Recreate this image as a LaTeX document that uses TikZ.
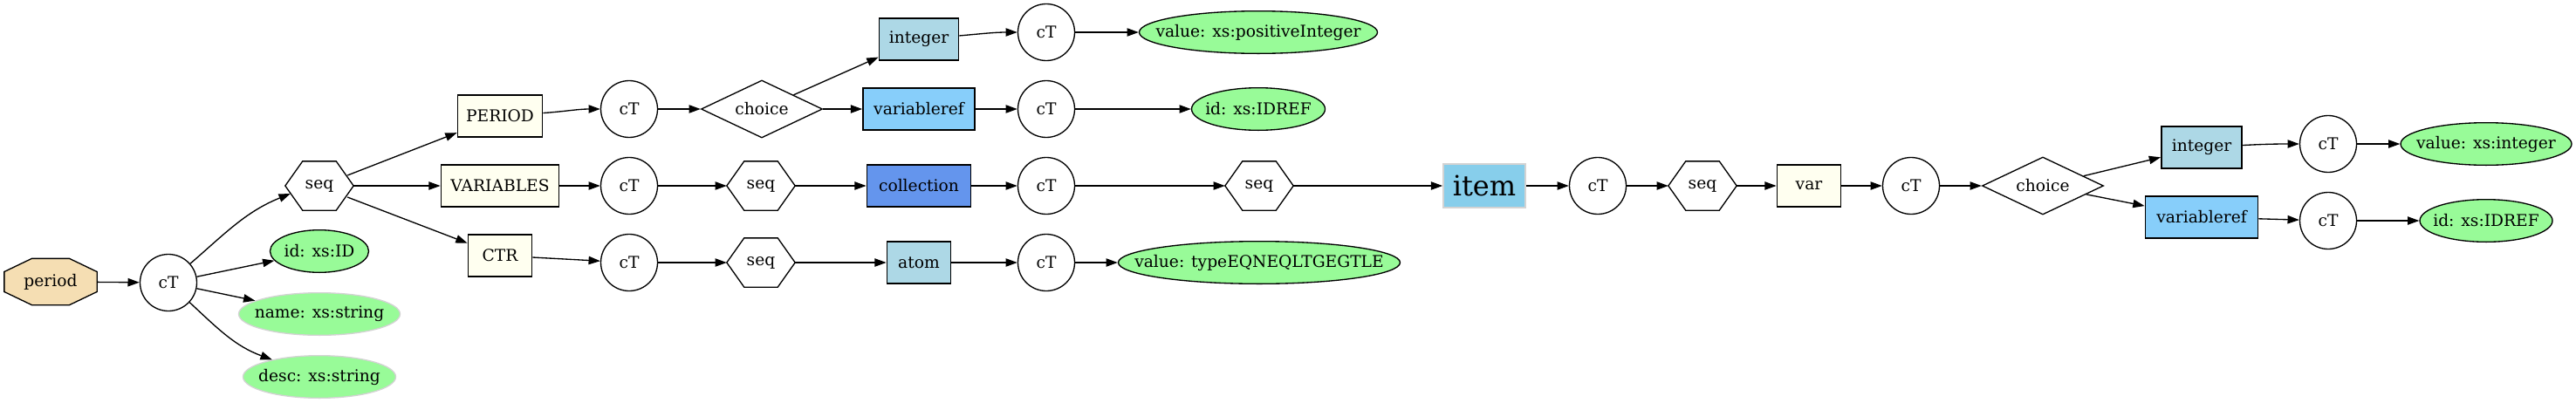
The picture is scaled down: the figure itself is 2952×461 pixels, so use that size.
\documentclass[tikz,border=0pt]{standalone}
\usepackage{fontspec}
\setmainfont{DejaVu Serif}
\usetikzlibrary{shapes.geometric,arrows.meta,backgrounds}
\definecolor{wheatc}{HTML}{F5DEB3}
\definecolor{palegreenc}{HTML}{98FB98}
\definecolor{ivoryc}{HTML}{FFFFF0}
\definecolor{lightbluec}{HTML}{ADD8E6}
\definecolor{lightskybluec}{HTML}{87CEFA}
\definecolor{cornflowerc}{HTML}{6495ED}
\definecolor{skybluec}{HTML}{87CEEB}
\definecolor{lgrayc}{HTML}{D3D3D3}
\newcommand\zwbox[1]{\makebox[0pt]{#1}}
\begin{document}
\begin{tikzpicture}[x=0.75pt,y=-0.75pt,
  base/.style={font=\fontsize{14}{16}\selectfont, inner sep=0pt, line width=1pt},
  ctnode/.style={base, circle, draw, fill=white, minimum size=48.75pt},
  boxnode/.style={base, rectangle, draw, line width=1.3pt, minimum height=36pt, inner xsep=2pt},
  hexnode/.style={base, rectangle, minimum width=57.75pt, minimum height=41.25pt},
  choicenode/.style={base, diamond, draw, aspect=2.1, minimum width=104.25pt, minimum height=49.5pt},
  attr/.style={base, ellipse, draw, fill=palegreenc, minimum height=36.5pt},
  attrl/.style={attr, draw=lgrayc},
  edge/.style={line width=1pt, -{Triangle[length=10pt,width=7pt]}},
  shapeline/.style={line width=1pt}
]
\useasboundingbox (0,0) rectangle (2952,461);

% left part
\node[base, rectangle, minimum width=78.75pt, minimum height=39pt] (period) at (58,323) {period};
\node[ctnode] (cT0) at (193,324) {cT};
\node[hexnode] (seq0) at (366,213) {seq};
\node[attr, minimum width=84.75pt] (id) at (366,288) {\zwbox{id: xs:ID}};
\node[attrl, minimum width=138.75pt] (name) at (366,360) {\zwbox{name: xs:string}};
\node[attrl, minimum width=131.25pt] (desc) at (366,432) {\zwbox{desc: xs:string}};

\node[boxnode, fill=ivoryc, minimum width=72.75pt] (PERIOD) at (573,133) {PERIOD};
\node[boxnode, fill=ivoryc, minimum width=101.25pt] (VARIABLES) at (573,213) {VARIABLES};
\node[boxnode, fill=ivoryc, minimum width=54.75pt] (CTR) at (573,293) {CTR};

\node[ctnode] (cT1) at (721,125) {cT};
\node[ctnode] (cT2) at (721,213) {cT};
\node[ctnode] (cT3) at (721,301) {cT};

\node[choicenode] (choice1) at (873,125) {choice};
\node[hexnode] (seq2) at (872,213) {seq};
\node[hexnode] (seq3) at (872,301) {seq};

\node[boxnode, fill=lightbluec, minimum width=68.25pt] (integer1) at (1053,45) {integer};
\node[boxnode, fill=lightskybluec, minimum width=96pt] (varref1) at (1053,125) {variableref};
\node[boxnode, fill=cornflowerc, minimum width=89.25pt] (collection) at (1053,213) {collection};
\node[boxnode, fill=lightbluec, minimum width=54.75pt] (atom) at (1053,301) {atom};

\node[ctnode] (cT4) at (1199,37) {cT};
\node[ctnode] (cT5) at (1199,125) {cT};
\node[ctnode] (cT6) at (1199,213) {cT};
\node[ctnode] (cT7) at (1199,301) {cT};

\node[attr, minimum width=204.75pt] (posint) at (1442,37) {\zwbox{value: xs:positiveInteger}};
\node[attr, minimum width=114.75pt] (idref1) at (1442,125) {\zwbox{id: xs:IDREF}};
\node[hexnode] (seq4) at (1443,213) {seq};
\node[attr, minimum width=242.25pt] (typeeq) at (1443,301) {\zwbox{value: typeEQNEQLTGEGTLE}};

% right part
\node[boxnode, draw=lgrayc, fill=skybluec, minimum width=70.5pt, minimum height=37.5pt, font=\fontsize{24}{28}\selectfont] (item) at (1701,213) {item};
\node[ctnode] (cT8) at (1831,213) {cT};
\node[hexnode] (seq5) at (1951,213) {seq};
\node[boxnode, fill=ivoryc, minimum width=54.75pt] (var) at (2073,213) {var};
\node[ctnode] (cT9) at (2190,213) {cT};
\node[choicenode] (choice2) at (2341,213) {choice};
\node[boxnode, fill=lightbluec, minimum width=69pt] (integer2) at (2523,169) {integer};
\node[boxnode, fill=lightskybluec, minimum width=96.75pt] (varref2) at (2523,249) {variableref};
\node[ctnode] (cT10) at (2668,165) {cT};
\node[ctnode] (cT11) at (2668,253) {cT};
\node[attr, minimum width=147pt] (xsint) at (2849,165) {\zwbox{value: xs:integer}};
\node[attr, minimum width=114pt] (idref2) at (2849,253) {\zwbox{id: xs:IDREF}};

\begin{pgfonlayer}{background}
  \draw[shapeline, fill=wheatc] ([yshift=8.6pt]period.west) -- ([xshift=-16.1pt]period.north) -- ([xshift=16.1pt]period.north) -- ([yshift=8.6pt]period.east) -- ([yshift=-8.6pt]period.east) -- ([xshift=16.1pt]period.south) -- ([xshift=-16.1pt]period.south) -- ([yshift=-8.6pt]period.west) -- cycle;
  \foreach \n in {seq0,seq2,seq3,seq4,seq5}{
    \draw[shapeline, fill=white] (\n.west) -- ([xshift=-14.44pt]\n.north) -- ([xshift=14.44pt]\n.north) -- (\n.east) -- ([xshift=14.44pt]\n.south) -- ([xshift=-14.44pt]\n.south) -- cycle;
  }
\end{pgfonlayer}

% edges
\draw[edge] (period) -- (cT0);
\draw[edge] (cT0) to[out=41,in=202] ([xshift=4.5pt,yshift=-6.75pt]seq0.west);
\draw[edge] (cT0) -- (id);
\draw[edge] (cT0) -- (name);
\draw[edge] (cT0) to[out=-43,in=160] (desc);
\draw[edge] ([xshift=-5.25pt,yshift=9pt]seq0.east) -- (PERIOD);
\draw[edge] (seq0) -- (VARIABLES);
\draw[edge] ([xshift=-5.25pt,yshift=-9.75pt]seq0.east) -- (CTR);
\draw[edge] (PERIOD) to[out=4,in=180] (cT1);
\draw[edge] (VARIABLES) -- (cT2);
\draw[edge] (CTR) -- (cT3);
\draw[edge] (cT1) -- (choice1);
\draw[edge] (cT2) -- (seq2);
\draw[edge] (cT3) -- (seq3);
\draw[edge] (choice1) -- (integer1);
\draw[edge] (choice1) -- (varref1);
\draw[edge] (seq2) -- (collection);
\draw[edge] (seq3) -- (atom);
\draw[edge] (integer1) to[out=5,in=180] (cT4);
\draw[edge] (varref1) -- (cT5);
\draw[edge] (collection) -- (cT6);
\draw[edge] (atom) -- (cT7);
\draw[edge] (cT4) -- (posint);
\draw[edge] (cT5) -- (idref1);
\draw[edge] (cT6) -- (seq4);
\draw[edge] (cT7) -- (typeeq);
\draw[edge] (seq4) -- (item);
\draw[edge] (item) -- (cT8);
\draw[edge] (cT8) -- (seq5);
\draw[edge] (seq5) -- (var);
\draw[edge] (var) -- (cT9);
\draw[edge] (cT9) -- (choice2);
\draw[edge] (choice2) -- (integer2);
\draw[edge] (choice2) -- (varref2);
\draw[edge] (integer2) to[out=3,in=180] (cT10);
\draw[edge] (varref2) -- (cT11);
\draw[edge] (cT10) -- (xsint);
\draw[edge] (cT11) -- (idref2);
\end{tikzpicture}
\end{document}
